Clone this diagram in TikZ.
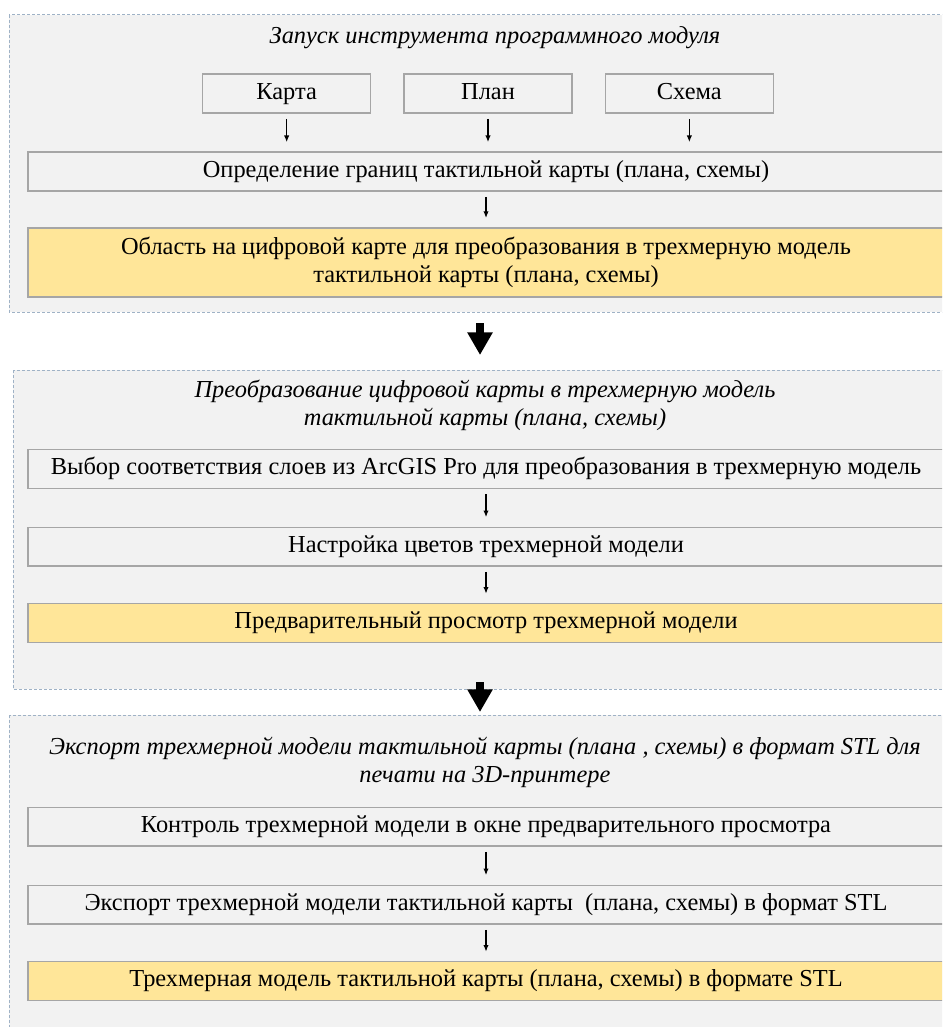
\documentclass[tikz,border=0pt]{standalone}
\usepackage{fontspec}
\setmainfont{Liberation Serif}
\usetikzlibrary{arrows.meta, positioning}
\definecolor{panelgray}{HTML}{F2F2F2}
\definecolor{dashblue}{HTML}{9FB2C6}
\definecolor{boxline}{HTML}{A6A6A6}
\definecolor{resyellow}{HTML}{FFE699}

\begin{document}
\begin{tikzpicture}[x=0.75pt, y=-0.75pt, font=\fontsize{18.3}{21}\selectfont,
    >={Latex[length=5pt,width=4pt]},
    stage/.style={draw=dashblue, line width=0.75pt, dash pattern=on 2.25pt off 1.5pt, fill=panelgray},
    head/.style={font=\fontsize{18.3}{21}\selectfont\itshape, align=center},
    src/.style={draw=boxline, line width=1pt, minimum width=126pt, minimum height=29.25pt,
        inner sep=0pt, text height=12.5pt, text depth=4pt, node distance=24pt},
    act/.style={draw=boxline, line width=1pt, minimum width=687pt, minimum height=29pt,
        inner sep=0pt, text height=12.5pt, text depth=4pt, align=center},
    res/.style={act, fill=resyellow},
    link/.style={->, line width=0.9pt, shorten <=4pt, shorten >=7pt},
    flow/.style={line width=6pt, -{Triangle[length=17pt,width=18pt]}}]
    \useasboundingbox (0,0) rectangle (942,1027);
    \clip (0,0) rectangle (942,1027);
    \draw[stage] (9,15) rectangle (960,312);
    \draw[stage] (13,370) rectangle (960,689);
    \draw[stage] (9,715) rectangle (960,1045);

    \node[head] (t1) at (495,38) {Запуск инструмента программного модуля};
    \node[src] (p) at (488,93.5) {План};
    \node[src, left=of p] (k) {Карта};
    \node[src, right=of p] (s) {Схема};
    \node[act] (d) at (486,171.5) {Определение границ тактильной карты (плана, схемы)};
    \node[res, minimum height=51.75pt, text height=, text depth=] (a) at (486,262.5)
        {Область на цифровой карте для преобразования в трехмерную модель\\тактильной карты (плана, схемы)};
    \draw[link] (k.south) -- (k.south |- d.north);
    \draw[link] (p.south) -- (p.south |- d.north);
    \draw[link] (s.south) -- (s.south |- d.north);
    \draw[link] (d) -- (a);

    \coordinate (f1) at (480,323);
    \coordinate (f1e) at (480,355);
    \draw[flow] (f1) -- (f1e);

    \node[head] (t2) at (485,405) {Преобразование цифровой карты в трехмерную модель\\тактильной карты (плана, схемы)};
    \node[act] (l) at (486,469) {Выбор соответствия слоев из ArcGIS Pro для преобразования в трехмерную модель};
    \node[act] (c) at (486,546.5) {Настройка цветов трехмерной модели};
    \node[res] (v) at (486,623) {Предварительный просмотр трехмерной модели};
    \draw[link] (l) -- (c);
    \draw[link] (c) -- (v);

    \coordinate (f2) at (480,682);
    \coordinate (f2e) at (480,712);
    \draw[flow] (f2) -- (f2e);

    \node[head] (t3) at (485,762.5) {Экспорт трехмерной модели тактильной карты (плана , схемы) в формат STL для\\печати на 3D-принтере};
    \node[act] (m) at (486,826.5) {Контроль трехмерной модели в окне предварительного просмотра};
    \node[act] (e) at (486,904.5) {Экспорт трехмерной модели тактильной карты\ \ (плана, схемы) в формат STL};
    \node[res] (r) at (486,981) {Трехмерная модель тактильной карты (плана, схемы) в формате STL};
    \draw[link] (m) -- (e);
    \draw[link] (e) -- (r);
\end{tikzpicture}
\end{document}
